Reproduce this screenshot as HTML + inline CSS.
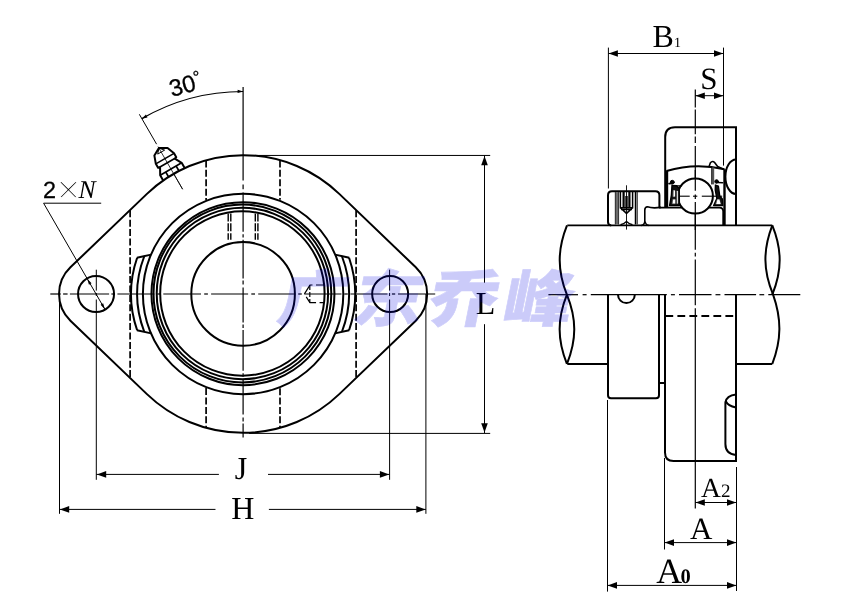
<!DOCTYPE html>
<html lang="zh">
<head>
<meta charset="utf-8">
<title>广东乔峰</title>
<style>
html,body{margin:0;padding:0;background:#fff;}
body{width:862px;height:604px;overflow:hidden;}
svg{display:block;}
text{text-rendering:geometricPrecision;}
</style>
</head>
<body>
<svg width="862" height="604" viewBox="0 0 862 604" stroke="#000" fill="none" stroke-linecap="butt">
<rect x="0" y="0" width="862" height="604" fill="#fff" stroke="none"/>
<g style="mix-blend-mode:multiply">
<line x1="240.10" y1="155.45" x2="490.20" y2="155.45" stroke-width="1.0"/>
<line x1="249.10" y1="433.40" x2="490.20" y2="433.40" stroke-width="1.0"/>
<line x1="484.50" y1="155.40" x2="484.50" y2="282.70" stroke-width="1.0"/>
<line x1="484.50" y1="324.20" x2="484.50" y2="433.00" stroke-width="1.0"/>
<polygon points="484.50,156.00 487.80,165.30 481.20,165.30" fill="#000" stroke="none"/>
<polygon points="484.50,432.60 481.20,423.30 487.80,423.30" fill="#000" stroke="none"/>
<line x1="96.30" y1="269.70" x2="96.30" y2="290.60" stroke-width="1.0"/>
<line x1="96.30" y1="293.00" x2="96.30" y2="296.00" stroke-width="1.0"/>
<line x1="96.30" y1="299.50" x2="96.30" y2="479.80" stroke-width="1.0"/>
<line x1="389.60" y1="269.70" x2="389.60" y2="290.60" stroke-width="1.0"/>
<line x1="389.60" y1="293.00" x2="389.60" y2="296.00" stroke-width="1.0"/>
<line x1="389.60" y1="299.50" x2="389.60" y2="479.80" stroke-width="1.0"/>
<line x1="96.30" y1="474.40" x2="218.90" y2="474.40" stroke-width="1.0"/>
<line x1="268.00" y1="474.40" x2="389.60" y2="474.40" stroke-width="1.0"/>
<polygon points="96.90,474.40 106.20,471.10 106.20,477.70" fill="#000" stroke="none"/>
<polygon points="389.20,474.40 379.90,477.70 379.90,471.10" fill="#000" stroke="none"/>
<line x1="59.50" y1="294.00" x2="59.50" y2="513.80" stroke-width="1.0"/>
<line x1="425.90" y1="294.00" x2="425.90" y2="513.80" stroke-width="1.0"/>
<line x1="59.50" y1="509.40" x2="215.70" y2="509.40" stroke-width="1.0"/>
<line x1="268.60" y1="509.40" x2="425.90" y2="509.40" stroke-width="1.0"/>
<polygon points="59.90,509.40 69.20,506.10 69.20,512.70" fill="#000" stroke="none"/>
<polygon points="425.60,509.40 416.30,512.70 416.30,506.10" fill="#000" stroke="none"/>
<line x1="50.30" y1="294.00" x2="60.80" y2="294.00" stroke-width="1.2"/>
<line x1="63.10" y1="294.00" x2="67.60" y2="294.00" stroke-width="1.2"/>
<line x1="69.90" y1="294.00" x2="109.10" y2="294.00" stroke-width="1.2"/>
<line x1="111.40" y1="294.00" x2="114.40" y2="294.00" stroke-width="1.2"/>
<line x1="117.40" y1="294.00" x2="154.50" y2="294.00" stroke-width="1.2"/>
<line x1="157.20" y1="294.00" x2="160.60" y2="294.00" stroke-width="1.2"/>
<line x1="163.30" y1="294.00" x2="201.00" y2="294.00" stroke-width="1.2"/>
<line x1="204.20" y1="294.00" x2="207.90" y2="294.00" stroke-width="1.2"/>
<line x1="211.10" y1="294.00" x2="248.10" y2="294.00" stroke-width="1.2"/>
<line x1="251.30" y1="294.00" x2="255.00" y2="294.00" stroke-width="1.2"/>
<line x1="258.20" y1="294.00" x2="294.50" y2="294.00" stroke-width="1.2"/>
<line x1="298.20" y1="294.00" x2="301.80" y2="294.00" stroke-width="1.2"/>
<line x1="304.30" y1="294.00" x2="341.50" y2="294.00" stroke-width="1.2"/>
<line x1="344.30" y1="294.00" x2="347.80" y2="294.00" stroke-width="1.2"/>
<line x1="350.50" y1="294.00" x2="387.50" y2="294.00" stroke-width="1.2"/>
<line x1="391.90" y1="294.00" x2="395.20" y2="294.00" stroke-width="1.2"/>
<line x1="398.00" y1="294.00" x2="435.20" y2="294.00" stroke-width="1.2"/>
<line x1="243.10" y1="87.00" x2="243.10" y2="180.60" stroke-width="1.2"/>
<line x1="243.10" y1="184.50" x2="243.10" y2="189.20" stroke-width="1.2"/>
<line x1="243.10" y1="192.60" x2="243.10" y2="231.80" stroke-width="1.2"/>
<line x1="243.10" y1="234.20" x2="243.10" y2="237.40" stroke-width="1.2"/>
<line x1="243.10" y1="239.80" x2="243.10" y2="278.50" stroke-width="1.2"/>
<line x1="243.10" y1="280.50" x2="243.10" y2="284.50" stroke-width="1.2"/>
<line x1="243.10" y1="287.50" x2="243.10" y2="322.40" stroke-width="1.2"/>
<line x1="243.10" y1="324.40" x2="243.10" y2="328.00" stroke-width="1.2"/>
<line x1="243.10" y1="330.00" x2="243.10" y2="370.70" stroke-width="1.2"/>
<line x1="243.10" y1="373.30" x2="243.10" y2="376.70" stroke-width="1.2"/>
<line x1="243.10" y1="379.20" x2="243.10" y2="414.40" stroke-width="1.2"/>
<line x1="243.10" y1="417.40" x2="243.10" y2="421.40" stroke-width="1.2"/>
<line x1="243.10" y1="423.40" x2="243.10" y2="437.50" stroke-width="1.2"/>
<path d="M141.85,118.63 A202.5,202.5 0 0 1 243.10,91.50" stroke-width="1.2" fill="none"/>
<polygon points="243.10,91.50 237.56,92.96 237.64,89.76" fill="#000" stroke="none"/>
<polygon points="141.85,118.63 145.92,114.60 147.45,117.41" fill="#000" stroke="none"/>
<line x1="139.35" y1="114.30" x2="156.60" y2="144.18" stroke-width="1.0"/>
<line x1="158.10" y1="146.78" x2="182.60" y2="189.21" stroke-width="0.8"/>
<line x1="43.60" y1="203.20" x2="101.20" y2="203.20" stroke-width="1.0"/>
<line x1="43.60" y1="203.20" x2="105.05" y2="309.59" stroke-width="1.0"/>
<polygon points="104.85,309.24 100.55,304.80 103.15,303.30" fill="#000" stroke="none"/>
<polygon points="87.25,278.76 91.55,283.20 88.95,284.70" fill="#000" stroke="none"/>
<path d="M163.19,180.39 L160.19,175.19 L160.06,167.18 L158.08,167.74 L155.83,163.85 L154.39,155.56 L158.88,148.12 L167.56,147.96 L174.02,153.35 L176.27,157.24 L174.79,158.68 L181.66,162.79 L184.66,167.99" stroke-width="2.0" fill="#fff" stroke-linejoin="round"/>
<path d="M160.19,175.19 L181.66,162.79 M159.53,167.25 L175.12,158.25 M155.83,163.85 L174.02,153.35 M168.48,176.75 L165.73,171.99 M178.87,170.75 L176.12,165.99" stroke-width="1.6" fill="none"/>
<path d="M157.71,154.10 L158.88,148.12 L164.64,150.10 Z" stroke-width="1.0" fill="none"/>
<line x1="158.10" y1="146.78" x2="182.60" y2="189.21" stroke-width="0.8"/>
<path d="M146.93,193.85 A138.85,138.85 0 0 1 339.27,193.85 L415.78,267.31 A37.0,37.0 0 0 1 415.78,320.69 L339.27,394.15 A138.85,138.85 0 0 1 146.93,394.15 L70.42,320.69 A37.0,37.0 0 0 1 70.42,267.31 Z" stroke-width="2.0" fill="none"/>
<circle cx="96.05" cy="294.00" r="18.00" stroke-width="2.0" fill="none"/>
<circle cx="390.15" cy="294.00" r="18.00" stroke-width="2.0" fill="none"/>
<circle cx="243.10" cy="294.00" r="100.20" stroke-width="2.0" fill="none"/>
<circle cx="243.10" cy="293.90" r="51.80" stroke-width="2.0" fill="none"/>
<circle cx="242.95" cy="293.70" r="91.50" stroke-width="2.0" fill="none"/>
<circle cx="242.40" cy="293.50" r="88.90" stroke-width="2.0" fill="none"/>
<circle cx="242.40" cy="293.50" r="85.70" stroke-width="2.0" fill="none"/>
<circle cx="242.40" cy="293.50" r="82.20" stroke-width="2.0" fill="none"/>
<path d="M144.26,256.26 A105.8,105.8 0 0 0 144.26,331.74" stroke-width="2.0" fill="none"/>
<path d="M137.14,257.72 A112.0,112.0 0 0 0 137.14,330.28" stroke-width="2.0" fill="none"/>
<line x1="151.19" y1="254.61" x2="136.95" y2="257.66" stroke-width="2.0"/>
<line x1="151.19" y1="333.39" x2="136.95" y2="330.34" stroke-width="2.0"/>
<path d="M341.94,256.26 A105.8,105.8 0 0 1 341.94,331.74" stroke-width="2.0" fill="none"/>
<path d="M349.06,257.72 A112.0,112.0 0 0 1 349.06,330.28" stroke-width="2.0" fill="none"/>
<line x1="335.01" y1="254.61" x2="349.25" y2="257.66" stroke-width="2.0"/>
<line x1="335.01" y1="333.39" x2="349.25" y2="330.34" stroke-width="2.0"/>
<line x1="130.10" y1="210.31" x2="130.10" y2="377.69" stroke-width="1.7" stroke-dasharray="7 2.4"/>
<line x1="356.10" y1="210.31" x2="356.10" y2="377.69" stroke-width="1.7" stroke-dasharray="7 2.4"/>
<line x1="206.10" y1="160.47" x2="206.10" y2="199.90" stroke-width="1.7" stroke-dasharray="7 2.4"/>
<line x1="206.10" y1="388.10" x2="206.10" y2="427.53" stroke-width="1.7" stroke-dasharray="7 2.4"/>
<line x1="280.00" y1="160.44" x2="280.00" y2="199.86" stroke-width="1.7" stroke-dasharray="7 2.4"/>
<line x1="280.00" y1="388.14" x2="280.00" y2="427.56" stroke-width="1.7" stroke-dasharray="7 2.4"/>
<line x1="228.20" y1="213.40" x2="228.20" y2="239.80" stroke-width="1.4" stroke-dasharray="8 1.9"/>
<line x1="230.80" y1="213.40" x2="230.80" y2="239.80" stroke-width="1.4" stroke-dasharray="8 1.9"/>
<line x1="255.30" y1="213.40" x2="255.30" y2="239.80" stroke-width="1.4" stroke-dasharray="8 1.9"/>
<line x1="257.90" y1="213.40" x2="257.90" y2="239.80" stroke-width="1.4" stroke-dasharray="8 1.9"/>
<path d="M324,285 L310,285 L304.4,294 L310,302.7 L324,302.7" stroke-width="1.2" fill="none" stroke-dasharray="8 3.5 5 0"/>
<line x1="309.80" y1="285.00" x2="309.80" y2="302.70" stroke-width="1.2" stroke-dasharray="5 2"/>
<rect x="219.00" y="456.00" width="49.00" height="26.00" fill="#fff" stroke="none"/>
<rect x="215.70" y="496.00" width="53.00" height="26.00" fill="#fff" stroke="none"/>
<text x="240.90" y="479.00" font-size="32" font-family="'Liberation Serif', serif" text-anchor="middle" fill="#000" stroke="none">J</text>
<text x="242.70" y="519.40" font-size="32" font-family="'Liberation Serif', serif" text-anchor="middle" fill="#000" stroke="none">H</text>
<text x="485.60" y="313.90" font-size="32" font-family="'Liberation Serif', serif" text-anchor="middle" fill="#000" stroke="none">L</text>
<text transform="translate(171.8,96.9) rotate(-15)" font-size="23.7" font-family="'Liberation Sans', sans-serif" fill="#000" stroke="#000" stroke-width="0.3">30<tspan font-size="17" dx="-0.3" dy="-7.2">°</tspan></text>
<text fill="#000" stroke="none"><tspan x="43.0" y="197.5" font-size="23.4" font-family="'Liberation Sans', sans-serif" stroke="#000" stroke-width="0.3">2</tspan><tspan x="56.2" y="203.6" font-size="43" font-family="'Liberation Serif', serif" stroke="#fff" stroke-width="1.3">×</tspan><tspan x="78.6" y="197.5" font-size="25.6" font-style="italic" font-family="'Liberation Serif', serif">N</tspan></text>
<line x1="608.40" y1="47.60" x2="608.40" y2="188.50" stroke-width="1.0"/>
<line x1="723.50" y1="47.60" x2="723.50" y2="165.60" stroke-width="1.0"/>
<line x1="608.40" y1="53.50" x2="723.50" y2="53.50" stroke-width="1.0"/>
<polygon points="608.60,53.50 617.90,50.20 617.90,56.80" fill="#000" stroke="none"/>
<polygon points="723.30,53.50 714.00,56.80 714.00,50.20" fill="#000" stroke="none"/>
<line x1="695.30" y1="95.70" x2="723.50" y2="95.70" stroke-width="1.0"/>
<polygon points="695.50,95.70 704.80,92.40 704.80,99.00" fill="#000" stroke="none"/>
<polygon points="723.30,95.70 714.00,99.00 714.00,92.40" fill="#000" stroke="none"/>
<line x1="548.40" y1="294.70" x2="578.00" y2="294.70" stroke-width="1.2"/>
<line x1="582.60" y1="294.70" x2="586.60" y2="294.70" stroke-width="1.2"/>
<line x1="590.80" y1="294.70" x2="666.80" y2="294.70" stroke-width="1.2"/>
<line x1="670.90" y1="294.70" x2="674.90" y2="294.70" stroke-width="1.2"/>
<line x1="679.00" y1="294.70" x2="711.50" y2="294.70" stroke-width="1.2"/>
<line x1="715.50" y1="294.70" x2="720.40" y2="294.70" stroke-width="1.2"/>
<line x1="724.50" y1="294.70" x2="756.10" y2="294.70" stroke-width="1.2"/>
<line x1="759.40" y1="294.70" x2="764.20" y2="294.70" stroke-width="1.2"/>
<line x1="768.30" y1="294.70" x2="800.30" y2="294.70" stroke-width="1.2"/>
<line x1="695.30" y1="89.50" x2="695.30" y2="107.40" stroke-width="1.2"/>
<line x1="695.30" y1="109.40" x2="695.30" y2="134.20" stroke-width="1.2"/>
<line x1="695.30" y1="136.60" x2="695.30" y2="143.00" stroke-width="1.2"/>
<line x1="695.30" y1="146.00" x2="695.30" y2="190.80" stroke-width="1.2"/>
<line x1="695.30" y1="194.40" x2="695.30" y2="199.10" stroke-width="1.2"/>
<line x1="695.30" y1="202.00" x2="695.30" y2="249.70" stroke-width="1.2"/>
<line x1="695.30" y1="252.70" x2="695.30" y2="256.40" stroke-width="1.2"/>
<line x1="695.30" y1="259.40" x2="695.30" y2="305.20" stroke-width="1.2"/>
<line x1="695.30" y1="308.30" x2="695.30" y2="508.40" stroke-width="1.2"/>
<line x1="607.50" y1="400.00" x2="607.50" y2="591.60" stroke-width="1.0"/>
<line x1="664.50" y1="458.00" x2="664.50" y2="549.50" stroke-width="1.0"/>
<line x1="736.50" y1="467.00" x2="736.50" y2="591.00" stroke-width="1.0"/>
<line x1="695.30" y1="502.50" x2="736.50" y2="502.50" stroke-width="1.0"/>
<polygon points="695.50,502.50 704.80,499.20 704.80,505.80" fill="#000" stroke="none"/>
<polygon points="736.30,502.50 727.00,505.80 727.00,499.20" fill="#000" stroke="none"/>
<line x1="664.50" y1="542.60" x2="736.50" y2="542.60" stroke-width="1.0"/>
<polygon points="664.70,542.60 674.00,539.30 674.00,545.90" fill="#000" stroke="none"/>
<polygon points="736.30,542.60 727.00,545.90 727.00,539.30" fill="#000" stroke="none"/>
<line x1="607.50" y1="585.40" x2="736.50" y2="585.40" stroke-width="1.0"/>
<polygon points="607.70,585.40 617.00,582.10 617.00,588.70" fill="#000" stroke="none"/>
<polygon points="736.30,585.40 727.00,588.70 727.00,582.10" fill="#000" stroke="none"/>
<line x1="567.30" y1="225.45" x2="772.30" y2="225.45" stroke-width="1.8"/>
<line x1="567.30" y1="363.90" x2="608.00" y2="363.90" stroke-width="2.0"/>
<line x1="736.00" y1="363.90" x2="772.30" y2="363.90" stroke-width="2.0"/>
<path d="M567.00,225.45 C557.29,249.68 557.29,270.45 566.90,294.67 C576.71,318.90 576.71,339.67 567.00,363.90" stroke-width="2.0" fill="none"/>
<path d="M566.90,294.70 C557.19,318.92 557.19,339.68 566.90,363.90" stroke-width="2.0" fill="none"/>
<path d="M772.30,225.45 C762.99,249.68 762.99,270.45 773.10,294.67 C781.61,318.90 781.61,339.67 772.30,363.90" stroke-width="2.0" fill="none"/>
<path d="M772.30,225.45 C782.14,249.69 782.14,270.46 772.30,294.70" stroke-width="2.0" fill="none"/>
<path d="M608,294.7 L608,395.3 Q608,398.3 611,398.3 L656,398.3 Q659,398.3 659,395.3 L659,294.7" stroke-width="2.0" fill="none"/>
<line x1="659.00" y1="383.00" x2="665.00" y2="383.00" stroke-width="2.0"/>
<path d="M618,294.7 A8.4,8.4 0 0 0 634.8,294.7" stroke-width="2.0" fill="none"/>
<path d="M665,294.7 L665,452.5 Q665,461 673.5,461 L736,461 L736,294.7" stroke-width="2.0" fill="none"/>
<line x1="665.40" y1="316.00" x2="736.00" y2="316.00" stroke-width="1.8" stroke-dasharray="7.8 4.2"/>
<path d="M736,394.4 Q726.5,395.5 725.4,402.3 L725.4,444 Q725.4,454 736,455" stroke-width="2.0" fill="none"/>
<path d="M725.6,401 Q728,406 736,407.4" stroke-width="2.0" fill="none"/>
<path d="M665.2,207 L665.2,137 Q665.2,127.2 675,127.2 L736,127.2 L736,225.45" stroke-width="2.0" fill="none"/>
<line x1="666.60" y1="170.50" x2="666.60" y2="207.00" stroke-width="3.2"/>
<line x1="724.50" y1="169.20" x2="724.50" y2="225.45" stroke-width="2.4"/>
<path d="M736,159.5 A10.6,17.2 0 0 0 736,193.9" stroke-width="2.0" fill="none"/>
<path d="M666.5,171 Q695,162.2 724.5,169.3" stroke-width="2.0" fill="none"/>
<path d="M708.8,167.2 L710.4,162.8 Q712.6,160.2 714.6,162.6 L717.6,166.6 L723.6,169.2" stroke-width="1.6" fill="none" stroke-linejoin="round"/>
<line x1="713.00" y1="167.40" x2="713.00" y2="184.40" stroke-width="2.4" stroke="#555"/>
<line x1="711.60" y1="167.40" x2="711.60" y2="184.40" stroke-width="0.8"/>
<path d="M611.2,225.45 Q608,225.14999999999998 608,222.04999999999998 L608,195.2 Q608,191.2 612,191.2 L655.4,191.2 Q659.4,191.2 659.4,195.2 L659.4,207.2" stroke-width="2.0" fill="none"/>
<path d="M661,207.4 Q652,208.6 647.5,206.8 Q644.8,207 644.8,210 L644.8,221.5 Q644.5,225 641,225.45" stroke-width="1.6" fill="none"/>
<path d="M645.2,221.5 Q645.6,225 649,225.45" stroke-width="1.4" fill="none"/>
<path d="M659,207.7 L665,207.6 L682.5,207.6 M708.3,207.6 L719.3,207.6 Q723.2,207.6 723.2,211.6 L723.2,225.45" stroke-width="1.8" fill="none"/>
<circle cx="695.30" cy="196.00" r="17.60" stroke-width="2.0" fill="#fff"/>
<line x1="679.00" y1="196.20" x2="689.70" y2="196.20" stroke-width="1.1"/>
<line x1="693.00" y1="196.20" x2="697.30" y2="196.20" stroke-width="1.1"/>
<line x1="701.80" y1="196.20" x2="722.20" y2="196.20" stroke-width="1.1"/>
<line x1="695.30" y1="170.00" x2="695.30" y2="190.80" stroke-width="1.2"/>
<line x1="695.30" y1="194.40" x2="695.30" y2="199.10" stroke-width="1.2"/>
<line x1="695.30" y1="202.00" x2="695.30" y2="230.00" stroke-width="1.2"/>
<g stroke-linejoin="round" stroke-linecap="round">
<circle cx="672.30" cy="182.20" r="1.90" stroke-width="1.0" fill="#000"/>
<path d="M669,183.6 L672,183.4" stroke-width="1.6" fill="none"/>
<path d="M672,185.4 L676.6,185.8 L679.2,188.5 L679.4,205.6 L669.6,205.6 L671.4,195 Z" stroke-width="1.4" fill="#111"/>
<path d="M673.6,190.5 L675,190.5 L675,196.6 L673.4,196.6 Z M673.2,199.4 L675.2,199.4 L675.2,203.6 L672.6,203.6 Z M677,191 L677.8,191 L677.8,203.4 L677,203.4 Z" stroke-width="0.3" fill="#fff" stroke="#fff"/>
<line x1="676.00" y1="185.90" x2="681.50" y2="185.90" stroke-width="1.3"/>
<circle cx="716.60" cy="181.50" r="1.80" stroke-width="1.0" fill="#000"/>
<path d="M718,182.6 L722.6,182.8" stroke-width="1.5" fill="none"/>
<path d="M715.4,185 L718.4,186.2 L719.8,196 L722.4,199 L722.8,205.6 L713.6,205.6 L716.8,198.4 L715.2,190 Z" stroke-width="1.3" fill="#111"/>
<path d="M717.4,199.6 L719.4,199.6 L720.6,204 L716.2,204 Z" stroke-width="0.3" fill="#fff" stroke="#fff"/>
</g>
<line x1="616.90" y1="192.00" x2="616.90" y2="224.50" stroke-width="3.6" stroke="#6a6a6a"/>
<line x1="615.30" y1="192.00" x2="615.30" y2="224.50" stroke-width="0.9" stroke="#222"/>
<line x1="618.60" y1="192.00" x2="618.60" y2="224.50" stroke-width="0.9" stroke="#222"/>
<line x1="635.40" y1="192.00" x2="635.40" y2="224.50" stroke-width="1.3"/>
<line x1="637.10" y1="192.00" x2="637.10" y2="224.50" stroke-width="1.3" stroke="#222"/>
<path d="M620.4,192 L620.4,207.8 L632.6,207.8 L632.6,192 M621,209.6 L632,209.6 M620.6,208 L626.5,213.4 L632.4,208" stroke-width="1.5" fill="none"/>
<path d="M623.6,192 L623.6,207.5 M629.4,192 L629.4,207.5" stroke-width="2.2" fill="none"/>
<line x1="626.50" y1="196.00" x2="626.50" y2="207.50" stroke-width="2.4"/>
<path d="M620.5,224.8 Q624,224 626.5,221.6 Q629,224 632.5,224.8" stroke-width="1.4" fill="none"/>
<line x1="626.50" y1="185.30" x2="626.50" y2="229.60" stroke-width="0.9"/>
<text x="652.6" y="46.7" font-size="32" font-family="'Liberation Serif', serif" fill="#000" stroke="none">B<tspan x="674" y="46.5" font-size="14">1</tspan></text>
<text x="700.30" y="88.60" font-size="31" font-family="'Liberation Serif', serif" text-anchor="start" fill="#000" stroke="none">S</text>
<text x="701" y="496.8" font-size="27.5" font-family="'Liberation Serif', serif" fill="#000" stroke="none">A<tspan x="721" y="496.8" font-size="19">2</tspan></text>
<text x="701.10" y="539.00" font-size="31" font-family="'Liberation Serif', serif" text-anchor="middle" fill="#000" stroke="none">A</text>
<text x="656.2" y="583.2" font-size="35.8" font-family="'Liberation Serif', serif" fill="#000" stroke="none">A<tspan x="680.6" y="583.4" font-size="20.5" font-weight="bold">0</tspan></text>
</g>
<g opacity="0.2"><text transform="matrix(1.14,0,-0.2,1,274.9,320.6)" font-size="61" letter-spacing="5" font-weight="900" font-family="'Liberation Sans', 'Noto Sans CJK SC', sans-serif" fill="#0000e6" stroke="#0000e6" stroke-width="0.6" stroke-linejoin="miter">广东乔峰</text></g>
</svg>
</body>
</html>
